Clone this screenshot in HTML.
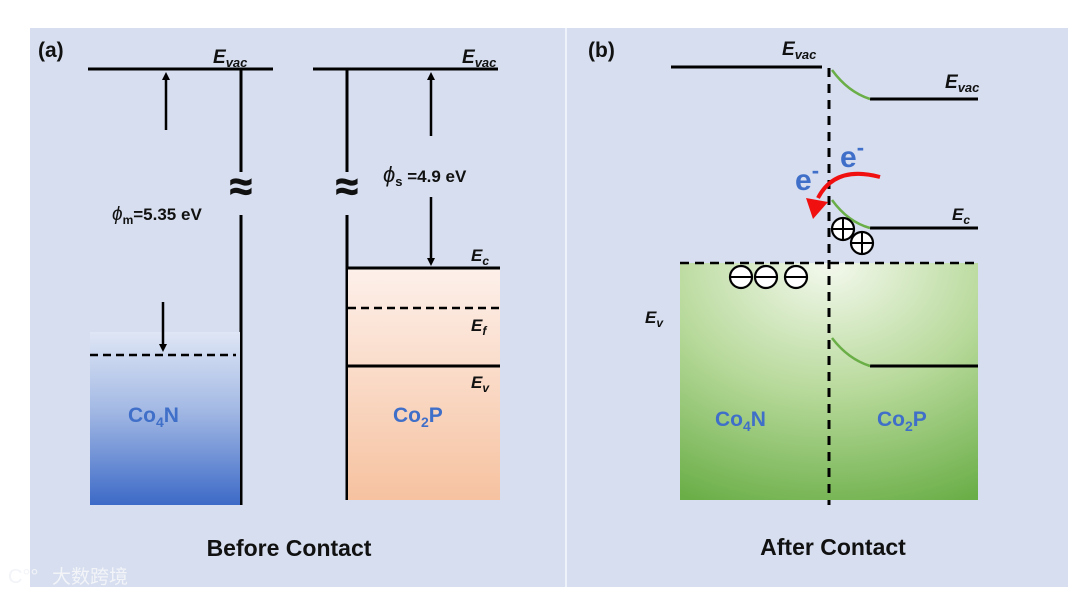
<!DOCTYPE html>
<html><head><meta charset="utf-8"><style>
html,body{margin:0;padding:0;background:#fff;}
svg{display:block;font-family:"Liberation Sans",Arial,sans-serif;}
</style></head><body>
<svg width="1080" height="595" viewBox="0 0 1080 595" xmlns="http://www.w3.org/2000/svg">
<defs>
<linearGradient id="blue" x1="0" y1="0" x2="0" y2="1">
<stop offset="0" stop-color="#dfe6f5"/><stop offset="0.45" stop-color="#a3b9e4"/><stop offset="1" stop-color="#3d6ac7"/>
</linearGradient>
<linearGradient id="peach" x1="0" y1="0" x2="0" y2="1">
<stop offset="0" stop-color="#fdf0ea"/><stop offset="1" stop-color="#f6c2a0"/>
</linearGradient>
<radialGradient id="green" cx="0.5" cy="0" r="1.1">
<stop offset="0" stop-color="#f4f9ee"/><stop offset="0.5" stop-color="#b7d99a"/><stop offset="1" stop-color="#6aae47"/>
</radialGradient>
<marker id="ah" markerWidth="8" markerHeight="8" refX="4" refY="4" orient="auto" markerUnits="userSpaceOnUse">
<path d="M0,0 L8,4 L0,8 z" fill="#000"/></marker>
</defs>
<rect x="30" y="28" width="535" height="559" fill="#d6deef"/>
<rect x="567" y="28" width="501" height="559" fill="#d6deef"/>
<line x1="566" y1="28" x2="566" y2="587" stroke="#eef2fa" stroke-width="2"/>

<g stroke="#000" stroke-width="3" fill="none">
<line x1="88" y1="69" x2="273" y2="69"/>
<line x1="313" y1="69" x2="498" y2="69"/>
<line x1="241" y1="69" x2="241" y2="172"/>
<line x1="241" y1="215" x2="241" y2="505"/>
<line x1="347" y1="69" x2="347" y2="172"/>
<line x1="347" y1="215" x2="347" y2="500"/>
</g>
<rect x="90" y="332" width="150" height="173" fill="url(#blue)"/>
<rect x="348" y="268" width="152" height="232" fill="url(#peach)"/>
<g stroke="#000" stroke-width="2.5" fill="none">
<line x1="166" y1="130" x2="166" y2="76" marker-end="url(#ah)"/>
<line x1="163" y1="302" x2="163" y2="348" marker-end="url(#ah)"/>
<line x1="431" y1="136" x2="431" y2="76" marker-end="url(#ah)"/>
<line x1="431" y1="197" x2="431" y2="262" marker-end="url(#ah)"/>
<line x1="90" y1="355" x2="236" y2="355" stroke-dasharray="8,5"/>
<line x1="348" y1="308" x2="500" y2="308" stroke-dasharray="8,5"/>
</g>
<line x1="347" y1="268" x2="500" y2="268" stroke="#000" stroke-width="3"/>
<line x1="347" y1="366" x2="500" y2="366" stroke="#000" stroke-width="3"/>
<g font-weight="bold" fill="#111">
<text x="38" y="57" font-size="21">(a)</text>
<text x="213" y="63" font-size="19" font-style="italic">E<tspan font-size="13" dy="4">vac</tspan></text>
<text x="462" y="63" font-size="19" font-style="italic">E<tspan font-size="13" dy="4">vac</tspan></text>
<text x="241" y="200" font-size="40" text-anchor="middle" stroke="#111" stroke-width="1">≈</text>
<text x="347" y="200" font-size="40" text-anchor="middle" stroke="#111" stroke-width="1">≈</text>
<text x="112" y="220" font-size="17"><tspan font-style="italic" font-weight="normal" font-size="19">ϕ</tspan><tspan font-size="12" dy="4">m</tspan><tspan dy="-4">=5.35 eV</tspan></text>
<text x="383" y="182" font-size="17"><tspan font-style="italic" font-weight="normal" font-size="22">ϕ</tspan><tspan font-size="13" dy="4">s</tspan><tspan dy="-4"> =4.9 eV</tspan></text>
<text x="471" y="261" font-size="17" font-style="italic">E<tspan font-size="12" dy="4">c</tspan></text>
<text x="471" y="331" font-size="17" font-style="italic">E<tspan font-size="12" dy="4">f</tspan></text>
<text x="471" y="388" font-size="17" font-style="italic">E<tspan font-size="12" dy="4">v</tspan></text>
<text x="289" y="556" font-size="23" text-anchor="middle">Before Contact</text>
<text x="588" y="57" font-size="21">(b)</text>
<text x="782" y="55" font-size="19" font-style="italic">E<tspan font-size="13" dy="4">vac</tspan></text>
<text x="945" y="88" font-size="19" font-style="italic">E<tspan font-size="13" dy="4">vac</tspan></text>
<text x="952" y="220" font-size="17" font-style="italic">E<tspan font-size="12" dy="4">c</tspan></text>
<text x="952" y="287" font-size="17" font-style="italic">E<tspan font-size="12" dy="4">f</tspan></text>
<text x="645" y="323" font-size="17" font-style="italic">E<tspan font-size="12" dy="4">v</tspan></text>
<text x="952" y="390" font-size="17" font-style="italic">E<tspan font-size="12" dy="4">v</tspan></text>
<text x="833" y="555" font-size="23" text-anchor="middle">After Contact</text>
</g>
<g font-weight="bold" fill="#3f6fc8" font-size="21">
<text x="128" y="422">Co<tspan font-size="14" dy="5">4</tspan><tspan dy="-5">N</tspan></text>
<text x="393" y="422">Co<tspan font-size="14" dy="5">2</tspan><tspan dy="-5">P</tspan></text>
</g>
<rect x="680" y="263" width="298" height="237" fill="url(#green)"/>
<line x1="671" y1="67" x2="822" y2="67" stroke="#000" stroke-width="3"/>
<line x1="870" y1="99" x2="978" y2="99" stroke="#000" stroke-width="3"/>
<line x1="870" y1="228" x2="978" y2="228" stroke="#000" stroke-width="3"/>
<line x1="870" y1="366" x2="978" y2="366" stroke="#000" stroke-width="3"/>
<g stroke="#6aae47" stroke-width="2.5" fill="none">
<path d="M832,70 Q848,92 870,99"/>
<path d="M832,200 Q848,222 870,228"/>
<path d="M832,338 Q848,359 870,366"/>
</g>
<line x1="680" y1="263" x2="978" y2="263" stroke="#000" stroke-width="2.5" stroke-dasharray="9,6"/>
<line x1="829" y1="68" x2="829" y2="505" stroke="#000" stroke-width="3" stroke-dasharray="9,7"/>
<g stroke="#000" stroke-width="2.2" fill="#fff">
<circle cx="843" cy="229" r="11"/><circle cx="862" cy="243" r="11"/>
<circle cx="741" cy="277" r="11"/><circle cx="766" cy="277" r="11"/><circle cx="796" cy="277" r="11"/>
</g>
<g stroke="#000" stroke-width="2">
<line x1="832" y1="229" x2="854" y2="229"/><line x1="843" y1="218" x2="843" y2="240"/>
<line x1="851" y1="243" x2="873" y2="243"/><line x1="862" y1="232" x2="862" y2="254"/>
<line x1="730" y1="277" x2="752" y2="277"/><line x1="755" y1="277" x2="777" y2="277"/><line x1="785" y1="277" x2="807" y2="277"/>
</g>
<g font-weight="bold" fill="#3f6fc8">
<text x="795" y="190" font-size="30">e<tspan font-size="22" dy="-12">-</tspan></text>
<text x="840" y="167" font-size="30">e<tspan font-size="22" dy="-12">-</tspan></text>
<text x="715" y="426" font-size="21">Co<tspan font-size="14" dy="5">4</tspan><tspan dy="-5">N</tspan></text>
<text x="877" y="426" font-size="21">Co<tspan font-size="14" dy="5">2</tspan><tspan dy="-5">P</tspan></text>
</g>
<path d="M880,177 Q835,165 818,198" stroke="#f01010" stroke-width="4" fill="none"/>
<path d="M806,198 L813,219 L828,202 z" fill="#f01010"/>
<text x="52" y="583" font-size="19" fill="#f2f4f8" font-family="'Noto Sans CJK SC',sans-serif">大数跨境</text>
<text x="8" y="583" font-size="20" fill="#f2f4f8">C°°</text>
</svg>
</body></html>
